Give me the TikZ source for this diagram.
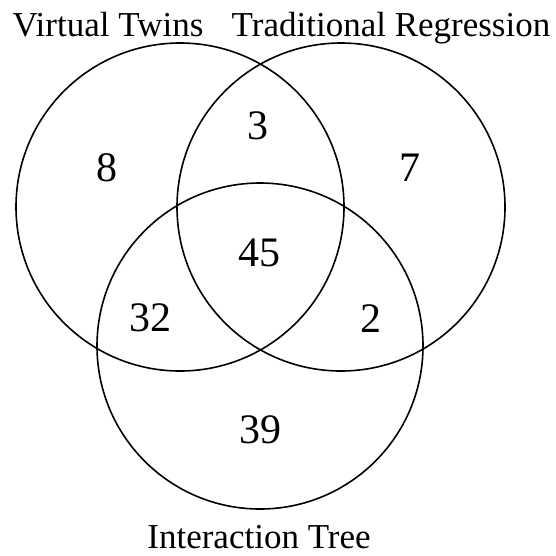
\documentclass[tikz,border=0pt]{standalone}
\usepackage{fontspec}
\setmainfont{Liberation Serif}
\begin{document}
\begin{tikzpicture}[x=1pt,y=-1pt,
  setcircle/.style={draw=black,line width=1.6pt},
  num/.style={inner sep=0pt,font=\fontsize{42}{50}\selectfont},
  lab/.style={inner sep=0pt,anchor=base,font=\fontsize{35}{42}\selectfont}]
\useasboundingbox (0,0) rectangle (556,555);
\draw[setcircle] (180,207) circle[radius=164];
\draw[setcircle] (341,207) circle[radius=164];
\draw[setcircle] (260,346) circle[radius=163];
\node[lab] (vt) at (108,36) {Virtual Twins};
\node[lab] (tr) at (391,36) {Traditional Regression};
\node[lab] (it) at (259,548) {Interaction Tree};
\node[num] (n8) at (107,168) {8};
\node[num] (n3) at (258,126) {3};
\node[num] (n7) at (410,168) {7};
\node[num] (n45) at (259,253) {45};
\node[num] (n32) at (150,318) {32};
\node[num] (n2) at (371,319) {2};
\node[num] (n39) at (260,430) {39};
\end{tikzpicture}
\end{document}
